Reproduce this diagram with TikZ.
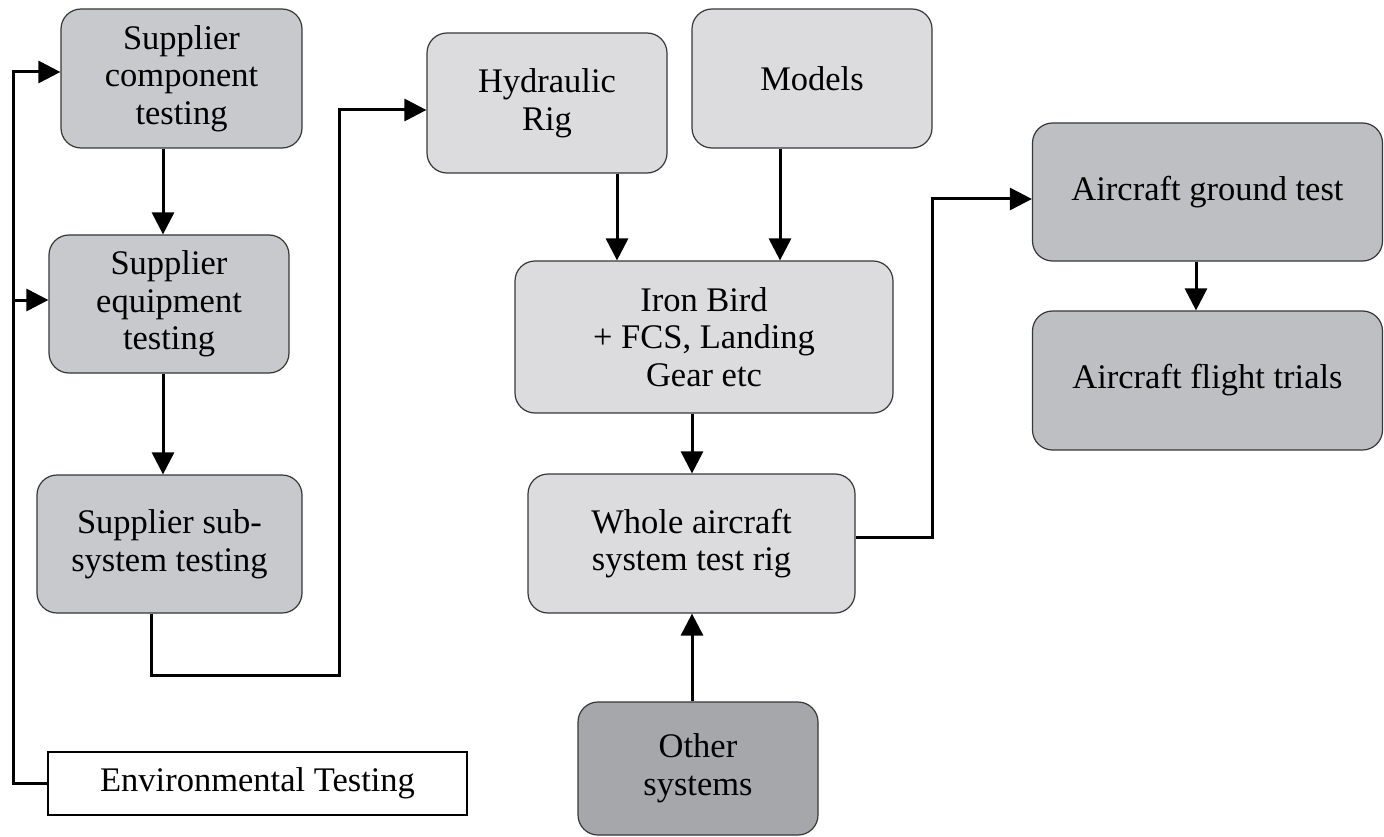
\documentclass[tikz,border=0pt]{standalone}
\usepackage{fontspec}
\setmainfont{Liberation Serif}
\usetikzlibrary{arrows.meta}
\definecolor{supfill}{RGB}{200,201,204}
\definecolor{lightfill}{RGB}{220,220,222}
\definecolor{acfill}{RGB}{190,191,195}
\definecolor{otherfill}{RGB}{166,167,170}
\definecolor{boxline}{RGB}{55,55,55}
\begin{document}
\begin{tikzpicture}[x=1pt,y=-1pt,
  box/.style={draw=boxline,line width=1.2pt,rounded corners=20pt,align=center,inner sep=0pt,
    font=\fontsize{34.5}{37.7}\selectfont},
  sup/.style={box,fill=supfill},
  light/.style={box,fill=lightfill},
  ac/.style={box,fill=acfill},
  oth/.style={box,fill=otherfill},
  envbox/.style={draw=black,line width=2.5pt,fill=white,align=center,inner sep=0pt,
    font=\fontsize{34.5}{37.7}\selectfont},
  conn/.style={draw=black,line width=3pt},
  arr/.style={conn,-{Triangle[length=22pt,width=22pt]}}
]
\useasboundingbox (0,0) rectangle (1384,837);

% nodes
\node[sup,minimum width=241pt,minimum height=139pt] (comp) at (181.5,78.5) {Supplier\\component\\testing};
\node[sup,minimum width=240pt,minimum height=138pt] (equip) at (169,304) {Supplier\\equipment\\testing};
\node[sup,minimum width=265pt,minimum height=138pt] (sub) at (169.5,544) {Supplier sub-\\system testing};
\node[envbox,minimum width=419pt,minimum height=63pt] (env) at (257.5,783.5) {Environmental Testing};
\node[light,minimum width=240pt,minimum height=140pt] (hyd) at (547,103) {Hydraulic\\Rig};
\node[light,minimum width=240pt,minimum height=139pt] (models) at (812,78.5) {Models};
\node[light,minimum width=378pt,minimum height=152pt] (iron) at (704,337) {Iron Bird\\+ FCS, Landing\\Gear etc};
\node[light,minimum width=327pt,minimum height=139pt] (whole) at (691.5,543.5) {Whole aircraft\\system test rig};
\node[oth,minimum width=240pt,minimum height=133pt] (other) at (698,768.5) {Other\\systems};
\node[ac,minimum width=350pt,minimum height=138pt] (ground) at (1207.5,192) {Aircraft ground test};
\node[ac,minimum width=350pt,minimum height=139pt] (flight) at (1207.5,380.5) {Aircraft flight trials};

% helper coordinates
\coordinate (e1) at (13,72);
\coordinate (e2) at (13,300);
\coordinate (a1) at (163,0);
\coordinate (s1) at (151,675);
\coordinate (s2) at (339,110);
\coordinate (h1) at (617,0);
\coordinate (m1) at (780,0);
\coordinate (c1) at (692,0);
\coordinate (w1) at (932,537);
\coordinate (w2) at (932,199);
\coordinate (g1) at (1196,0);

% connectors
\draw[arr] (env.west) -| (e1) -- (e1 -| comp.west);
\draw[arr] (e2) -- (e2 -| equip.west);
\draw[arr] (a1 |- comp.south) -- (a1 |- equip.north);
\draw[arr] (a1 |- equip.south) -- (a1 |- sub.north);
\draw[arr] (s1 |- sub.south) -- (s1) -| (s2) -- (s2 -| hyd.west);
\draw[arr] (h1 |- hyd.south) -- (h1 |- iron.north);
\draw[arr] (m1 |- models.south) -- (m1 |- iron.north);
\draw[arr] (c1 |- iron.south) -- (c1 |- whole.north);
\draw[arr] (c1 |- other.north) -- (c1 |- whole.south);
\draw[arr] (w1 -| whole.east) -- (w1) -- (w2) -- (w2 -| ground.west);
\draw[arr] (g1 |- ground.south) -- (g1 |- flight.north);
\end{tikzpicture}
\end{document}
